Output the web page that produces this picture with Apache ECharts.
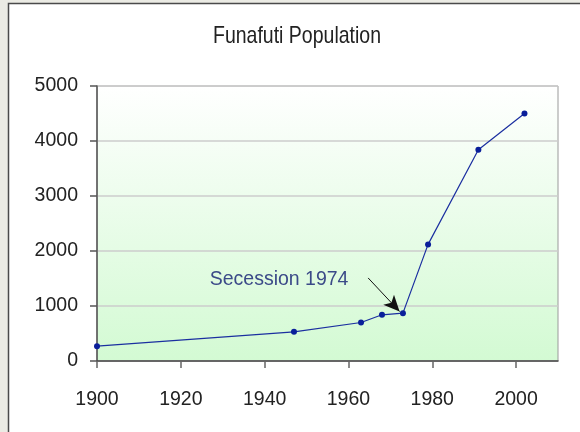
<!DOCTYPE html>
<html>
<head>
<meta charset="utf-8">
<script src="https://cdn.jsdelivr.net/npm/echarts@6/dist/echarts.min.js"></script>
<style>
html,body{margin:0;padding:0;background:#ebebe4;}
#main{width:580px;height:432px;}
</style>
</head>
<body>
<div id="main"></div>
<script>
var titleText = 'Funafuti Population';
var years = [1900, 1947, 1963, 1968, 1973, 1979, 1991, 2002];
var population = [270, 530, 700, 840, 870, 2120, 3840, 4500];
var yTicks = [0, 1000, 2000, 3000, 4000, 5000];
var xTicks = [1900, 1920, 1940, 1960, 1980, 2000];
var annotationText = 'Secession 1974';
var annotationAnchor = [1960, 1480];
var arrowFrom = [1964.7, 1510];
var arrowTo = [1972.2, 900];

var FONT = '"Liberation Sans", Arial, sans-serif';
var chart = echarts.init(document.getElementById('main'), null, {renderer: 'canvas'});
var option = {
  backgroundColor: '#ebebe4',
  animation: false,
  graphic: [{
    type: 'rect', z: -10,
    shape: {x: 8.5, y: 3.5, width: 700, height: 600},
    style: {fill: '#ffffff', stroke: '#4a4a4a', lineWidth: 1.5}
  }, {
    type: 'text', z: 10,
    x: 297, y: 37, scaleX: 1, scaleY: 1.2,
    style: {
      text: titleText, x: 0, y: 0,
      align: 'center', verticalAlign: 'middle',
      font: '19.5px "Liberation Sans", Arial, sans-serif',
      fill: '#222222'
    }
  }],
  grid: {
    left: 97, right: 22, top: 86, bottom: 71,
    show: true,
    borderColor: '#9a9a9a', borderWidth: 1,
    backgroundColor: new echarts.graphic.LinearGradient(0, 0, 0, 1, [
      {offset: 0, color: '#ffffff'},
      {offset: 1, color: '#d3fad3'}
    ])
  },
  xAxis: {
    type: 'value', min: 1900, max: 2010, interval: 20,
    axisLine: {show: true, onZero: false, lineStyle: {color: '#444444', width: 1.5}},
    axisTick: {show: true, inside: false, length: 7, lineStyle: {color: '#666666', width: 1.5}},
    axisLabel: {
      margin: 29, fontFamily: FONT, fontSize: 19.5, color: '#222222',
      showMaxLabel: false,
      formatter: function (v) { return xTicks.indexOf(v) >= 0 ? String(v) : ''; }
    },
    splitLine: {show: false}
  },
  yAxis: {
    type: 'value', min: 0, max: 5000, interval: 1000,
    axisLine: {show: true, lineStyle: {color: '#555555', width: 1.5}},
    axisTick: {show: true, inside: false, length: 7, lineStyle: {color: '#555555', width: 1.5}},
    axisLabel: {
      margin: 19, fontFamily: FONT, fontSize: 19.5, color: '#222222',
      formatter: function (v) { return yTicks.indexOf(v) >= 0 ? String(v) : ''; }
    },
    splitLine: {show: true, lineStyle: {color: '#cccccc', width: 1.5}}
  },
  series: [{
    type: 'line',
    data: years.map(function (y, i) { return [y, population[i]]; }),
    symbol: 'circle', symbolSize: 6,
    lineStyle: {color: '#1b2fa0', width: 1.2},
    itemStyle: {color: '#0a1f9a'},
    markPoint: {
      symbol: 'circle', symbolSize: 0,
      data: [{coord: annotationAnchor, value: annotationText}],
      label: {
        show: true, position: 'left', distance: 0,
        formatter: annotationText,
        fontFamily: FONT, fontSize: 19.5, color: '#3b4a88'
      }
    },
    markLine: {
      silent: true,
      symbol: ['none', 'arrow'], symbolSize: [11, 16],
      label: {show: false},
      lineStyle: {color: '#111111', width: 1, type: 'solid'},
      data: [[{coord: arrowFrom}, {coord: arrowTo}]]
    }
  }]
};
chart.setOption(option);
</script>
</body>
</html>
